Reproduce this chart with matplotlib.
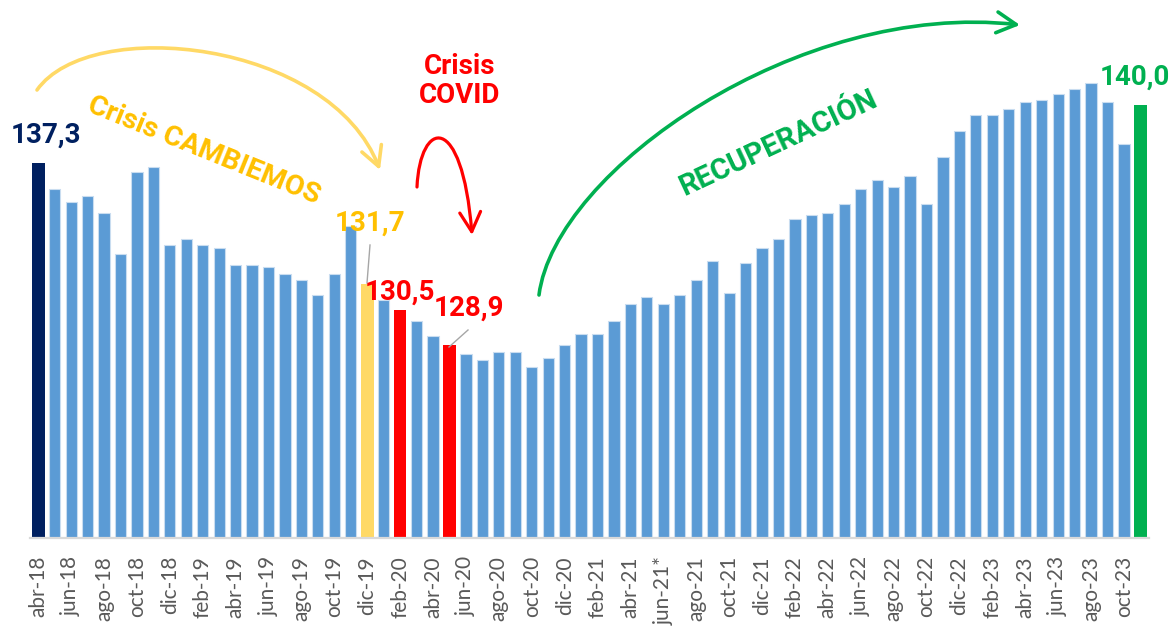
import numpy as np
import matplotlib
matplotlib.use('Agg')
import matplotlib.pyplot as plt
from matplotlib.path import Path
from matplotlib.patches import FancyArrowPatch

# monthly index, abr-18 .. nov-23
values = [137.3, 136.1, 135.5, 135.8, 135.0, 133.1, 136.9, 137.1, 133.5,
          133.8, 133.5, 133.4, 132.6, 132.6, 132.5, 132.2, 131.9, 131.2, 132.2, 134.4, 131.7,
          131.0, 130.5, 130.0, 129.3, 128.9, 128.5, 128.2, 128.6, 128.6, 127.9, 128.3, 128.9,
          129.4, 129.4, 130.0, 130.8, 131.1, 130.8, 131.2, 131.9, 132.8, 131.3, 132.7, 133.4,
          133.8, 134.7, 134.9, 135.0, 135.4, 136.1, 136.5, 136.2, 136.7, 135.4, 137.6, 138.8,
          139.5, 139.5, 139.8, 140.1, 140.2, 140.5, 140.7, 141.0, 140.1, 138.2, 140.0]

tick_labels = ['abr-18', 'jun-18', 'ago-18', 'oct-18', 'dic-18',
               'feb-19', 'abr-19', 'jun-19', 'ago-19', 'oct-19', 'dic-19',
               'feb-20', 'abr-20', 'jun-20', 'ago-20', 'oct-20', 'dic-20',
               'feb-21', 'abr-21', 'jun-21*', 'ago-21', 'oct-21', 'dic-21',
               'feb-22', 'abr-22', 'jun-22', 'ago-22', 'oct-22', 'dic-22',
               'feb-23', 'abr-23', 'jun-23', 'ago-23', 'oct-23']

# highlighted months: index -> colour
highlights = {0: '#002060', 20: '#FFD966', 22: '#FF0000', 25: '#FF0000', 67: '#00B050'}

BLUE = '#5B9BD5'
TICK_FONT = 'Lato'
NOTE_FONT = 'Roboto'

W, H = 1176, 626
fig = plt.figure(figsize=(W / 100, H / 100), dpi=100)
ax = fig.add_axes([30 / W, 88 / H, 1118.6 / W, 538 / H])

x = np.arange(len(values))
colors = [highlights.get(i, BLUE) for i in x]
widths = [0.77 if i in highlights else 0.68 for i in x]
edges = ['none' if i in highlights else '#C9DDF0' for i in x]
ax.bar(x, np.array(values) - 120, bottom=120, width=widths, color=colors,
       edgecolor=edges, linewidth=0.8)

ax.set_xlim(-0.5, len(values) - 0.5)
ax.set_ylim(120, 120 + 538 / 21.67)
ax.set_xticks(x[::2])
ax.set_xticklabels(tick_labels, rotation=90, fontsize=15, color='#595959', family=TICK_FONT)
ax.tick_params(axis='x', length=0, pad=13)
ax.set_yticks([])
for s in ['top', 'right', 'left']:
    ax.spines[s].set_visible(False)
ax.spines['bottom'].set_color('#D9D9D9')
ax.spines['bottom'].set_linewidth(1.6)


def fp(px, py):
    # reference pixel -> figure fraction
    return (px / W, 1 - py / H)


def label(px, py, txt, color, size=20, rot=0):
    fig.text(*fp(px, py), txt, color=color, fontsize=size, fontweight='bold',
             family=NOTE_FONT, ha='center', va='center', rotation=rot,
             rotation_mode='anchor', linespacing=1.05)


def arc(pts, color, lw):
    verts = [fp(*p) for p in pts]
    path = Path(verts, [Path.MOVETO, Path.CURVE4, Path.CURVE4, Path.CURVE4])
    a = FancyArrowPatch(path=path, arrowstyle='->,head_length=1.4,head_width=0.75',
                        mutation_scale=10, color=color, lw=lw,
                        transform=fig.transFigure, shrinkA=0, shrinkB=0)
    fig.add_artist(a)


label(46, 135, '137,3', '#002060')
label(204, 151, 'Crisis CAMBIEMOS', '#FFC000', size=20.5, rot=-22)
label(370, 223, '131,7', '#FFC000')
label(400, 292, '130,5', '#FF0000')
label(469, 308, '128,9', '#FF0000')
label(460, 81, 'Crisis\nCOVID', '#FF0000')
label(778, 143, 'RECUPERACIÓN', '#00B050', size=21, rot=25)
label(1135, 77, '140,0', '#00B050')

# leader lines
fig.add_artist(plt.Line2D([370 / W, 367 / W], [1 - 245 / H, 1 - 283 / H],
                          color='#A6A6A6', lw=1))
fig.add_artist(plt.Line2D([468 / W, 449 / W], [1 - 330 / H, 1 - 347 / H],
                          color='#A6A6A6', lw=1))

arc([(37, 90), (90, 15), (330, 40), (380, 170)], '#FFD966', 2.6)
arc([(417, 187), (420, 120), (462, 110), (472, 235)], '#FF0000', 2.3)
arc([(539, 295), (555, 170), (800, 0), (1020, 25)], '#00B050', 2.6)

fig.savefig('out.png', dpi=100)
